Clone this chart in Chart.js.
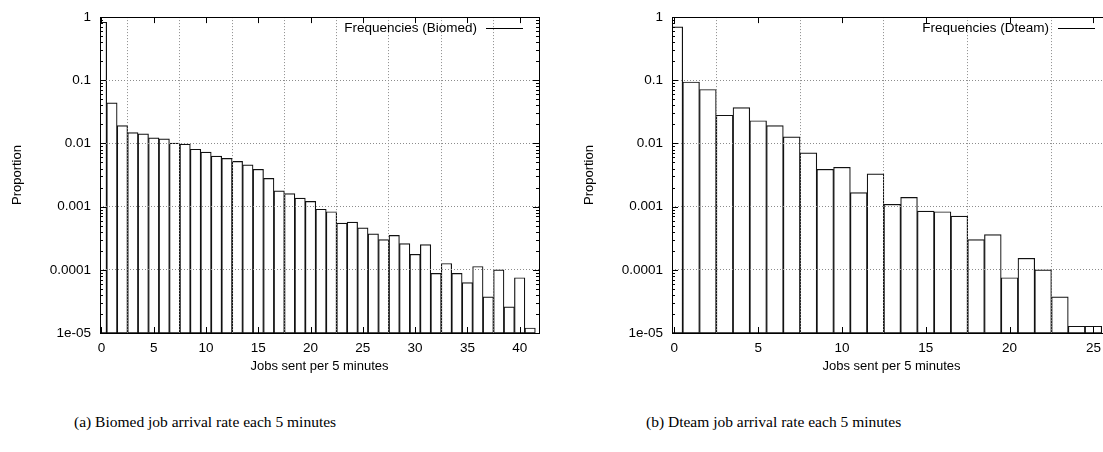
<!DOCTYPE html>
<html>
<head>
<meta charset="utf-8">
<script src="https://cdn.jsdelivr.net/npm/chart.js@4.4.1/dist/chart.umd.min.js"></script>
<style>
    html, body { margin: 0; padding: 0; background: #fff; }
    body { width: 1103px; height: 452px; position: relative; overflow: hidden; }
    .panel { position: absolute; top: 0; width: 560px; height: 390px; }
    .caption { position: absolute; top: 413px; font-family: "Liberation Serif", "DejaVu Serif", serif; font-size: 15.5px; white-space: nowrap; color: #000; }
</style>
</head>
<body>
<div class="panel" style="left:0"><canvas id="biomedChart"></canvas></div>
<div class="panel" style="left:572px"><canvas id="dteamChart"></canvas></div>
<div class="caption" style="left:74px">(a) Biomed job arrival rate each 5 minutes</div>
<div class="caption" style="left:646px">(b) Dteam job arrival rate each 5 minutes</div>
<script>
// jobs sent per 5 minutes (bin) and proportion of 5-minute slots
const biomedJobs = [0, 1, 2, 3, 4, 5, 6, 7, 8, 9, 10, 11, 12, 13, 14, 15, 16, 17, 18, 19, 20,
    21, 22, 23, 24, 25, 26, 27, 28, 29, 30, 31, 32, 33, 34, 35, 36, 37, 38, 39, 40, 41];
const biomedProportion = [0.83, 0.044, 0.0191, 0.0149, 0.0142, 0.0123, 0.0118, 0.0101, 0.0098, 0.0081,
    0.0073, 0.0063, 0.0058, 0.0052, 0.0046, 0.0039, 0.0028, 0.00178, 0.00161, 0.00136,
    0.00121, 0.00091, 0.00083, 0.00055, 0.00057, 0.00046, 0.00037, 0.00030, 0.00035, 0.00026,
    0.000176, 0.00025, 0.0000877, 0.000126, 0.0000877, 0.0000627, 0.000113, 0.0000374, 0.0001, 0.000026,
    0.000075, 0.000012];

const dteamJobs = [0, 1, 2, 3, 4, 5, 6, 7, 8, 9, 10, 11, 12, 13, 14, 15, 16, 17, 18, 19, 20,
    21, 22, 23, 24, 25];
const dteamProportion = [0.70, 0.094, 0.0715, 0.028, 0.037, 0.0229, 0.0191, 0.0127, 0.0071, 0.0039,
    0.0042, 0.00167, 0.0033, 0.00109, 0.0014, 0.00085, 0.00083, 0.00071, 0.00030, 0.00036,
    0.000075, 0.000152, 0.0001, 0.0000374, 0.0000128, 0.0000128];

const yTickValues = [0.00001, 0.0001, 0.001, 0.01, 0.1, 1];
const yTickLabels = ['1e-05', '0.0001', '0.001', '0.01', '0.1', '1'];
const yMinorSteps = [2, 3, 4, 5, 6, 7, 8, 9];
const biomedXTicks = [0, 5, 10, 15, 20, 25, 30, 35, 40];
const dteamXTicks = [0, 5, 10, 15, 20, 25];

const FONT = '"Liberation Sans", Arial, sans-serif';
Chart.defaults.font.family = FONT;
Chart.defaults.font.size = 13;
Chart.defaults.color = '#000';

// gnuplot-like frame, inward ticks and the key in the top right corner
const gnuplotFrame = {
    id: 'gnuplotFrame',
    afterDraw(chart, args, opts) {
        const { ctx, chartArea: a, scales: { x, y } } = chart;
        ctx.save();
        ctx.strokeStyle = '#000';
        ctx.lineWidth = 1;
        ctx.beginPath();
        yTickValues.forEach((v, i) => {
            const py = Math.round(y.getPixelForValue(v)) + 0.5;
            ctx.moveTo(a.left, py); ctx.lineTo(a.left + 6, py);
            ctx.moveTo(a.right, py); ctx.lineTo(a.right - 6, py);
            if (i < yTickValues.length - 1) {
                yMinorSteps.forEach(m => {
                    const pm = Math.round(y.getPixelForValue(v * m)) + 0.5;
                    ctx.moveTo(a.left, pm); ctx.lineTo(a.left + 3, pm);
                    ctx.moveTo(a.right, pm); ctx.lineTo(a.right - 3, pm);
                });
            }
        });
        opts.xTicks.forEach(v => {
            const px = Math.round(x.getPixelForValue(v)) + 0.5;
            ctx.moveTo(px, a.bottom); ctx.lineTo(px, a.bottom - 6);
            ctx.moveTo(px, a.top); ctx.lineTo(px, a.top + 6);
        });
        ctx.stroke();
        ctx.strokeRect(Math.round(a.left) + 0.5, Math.round(a.top) + 0.5,
            Math.round(a.right - a.left), Math.round(a.bottom - a.top));

        const label = chart.data.datasets[0].label;
        const ky = Math.round(a.top + 11) + 0.5;
        ctx.font = '13.5px ' + FONT;
        ctx.fillStyle = '#000';
        ctx.textAlign = 'right';
        ctx.textBaseline = 'middle';
        ctx.fillText(label, a.right - 62, ky);
        ctx.beginPath();
        ctx.moveTo(a.right - 53, ky);
        ctx.lineTo(a.right - 16, ky);
        ctx.stroke();
        ctx.restore();
    }
};

function makeChart(canvasId, label, jobs, proportion, xTicks, xMax) {
    const ctx = document.getElementById(canvasId).getContext('2d');
    return new Chart(ctx, {
        type: 'bar',
        data: {
            datasets: [{
                label: label,
                data: jobs.map((j, i) => ({ x: j, y: proportion[i] })),
                backgroundColor: '#fff',
                borderColor: '#111',
                borderWidth: 1.2,
                borderSkipped: false,
                barPercentage: 1,
                categoryPercentage: 1,
                clip: 0
            }]
        },
        options: {
            responsive: true,
            maintainAspectRatio: false,
            animation: false,
            events: [],
            layout: { padding: { top: 14, right: 21, left: 0, bottom: 0 } },
            plugins: {
                legend: { display: false },
                tooltip: { enabled: false },
                gnuplotFrame: { xTicks: xTicks }
            },
            scales: {
                x: {
                    type: 'linear',
                    min: -0.14,
                    max: xMax,
                    offset: false,
                    afterBuildTicks: s => { s.ticks = xTicks.map(v => ({ value: v })); },
                    afterFit: s => { s.height = 57; },
                    ticks: { padding: 7, maxRotation: 0, autoSkip: false, font: { size: 13.5 } },
                    grid: { color: '#8c8c8c', lineWidth: 1, drawTicks: false, z: 1 },
                    border: { display: false, dash: [1, 2] },
                    title: { display: true, text: 'Jobs sent per 5 minutes', padding: { top: 0, bottom: 16 } }
                },
                y: {
                    type: 'logarithmic',
                    min: 0.00001,
                    max: 1,
                    afterBuildTicks: s => { s.ticks = yTickValues.map(v => ({ value: v })); },
                    afterFit: s => { s.width = 100; },
                    ticks: {
                        padding: 9,
                        autoSkip: false,
                        font: { size: 13.5 },
                        callback: (value, index) => yTickLabels[index]
                    },
                    grid: { color: '#8c8c8c', lineWidth: 1, drawTicks: false, z: 1 },
                    border: { display: false, dash: [1, 2] },
                    title: { display: true, text: 'Proportion', padding: { top: 10 } }
                }
            }
        },
        plugins: [gnuplotFrame]
    });
}

makeChart('biomedChart', 'Frequencies (Biomed)', biomedJobs, biomedProportion, biomedXTicks, 41.85);
makeChart('dteamChart', 'Frequencies (Dteam)', dteamJobs, dteamProportion, dteamXTicks, 26.05);
</script>
</body>
</html>
